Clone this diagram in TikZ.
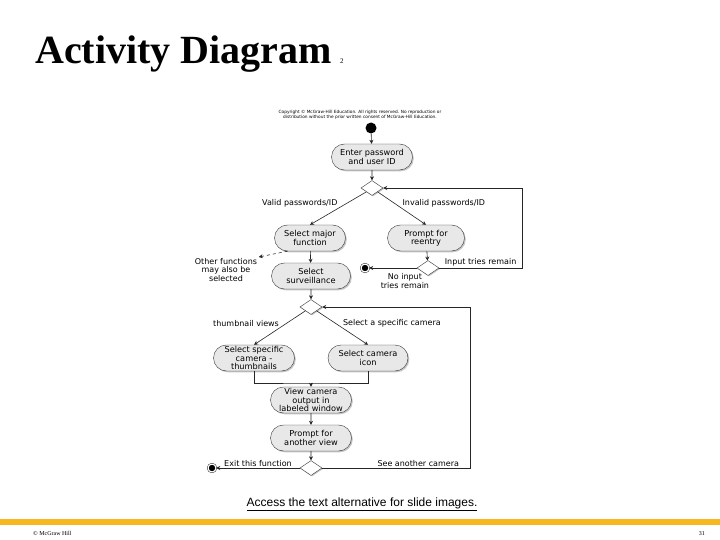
\documentclass[tikz,border=0pt]{standalone}
\usepackage{fontspec}
\setmainfont{Liberation Sans}
\newfontfamily\diagfont{DejaVu Sans}
\newfontfamily\titlefont{Liberation Serif}
\usetikzlibrary{shapes.misc,shapes.geometric,arrows.meta,shadows}

\definecolor{barYellow}{RGB}{246,184,30}
\definecolor{boxGray}{RGB}{232,232,232}

\tikzset{
  activity/.style={rounded rectangle, draw=black!80, fill=boxGray, minimum height=26pt,
    inner sep=0.5pt, align=center, font=\diagfont\fontsize{8.2}{8.4}\selectfont,
    drop shadow={shadow xshift=1.3pt, shadow yshift=-1.3pt, fill=black!45}},
  decision/.style={diamond, draw=black!80, fill=white, minimum width=22pt, minimum height=15pt,
    inner sep=0pt, drop shadow={shadow xshift=1pt, shadow yshift=-1pt, fill=black!45}},
  flow/.style={draw=black!85, line width=0.6pt, -{Stealth[length=4pt,width=4pt]}},
  guard/.style={font=\diagfont\fontsize{8}{8.2}\selectfont, inner sep=1.5pt, align=center},
  startnode/.style={circle, fill=black, minimum size=11pt, inner sep=0pt},
  endnode/.style={circle, draw=black, fill=black, double=white, double distance=1.2pt,
    minimum size=8pt, inner sep=0pt},
}

\begin{document}
\begin{tikzpicture}[x=1pt,y=-1pt]
\useasboundingbox (0,0) rectangle (720,540);

% Title
\node[anchor=base west, inner sep=0, font=\titlefont\bfseries\fontsize{40}{40}\selectfont] (title) at (35,64) {Activity Diagram};
\node[anchor=base west, inner sep=0, font=\titlefont\fontsize{7}{7}\selectfont] (titlenum) at (340,64) {2};

% Copyright notice
\node[font=\diagfont\fontsize{4.3}{5}\selectfont, align=center] (notice) at (360,115)
  {Copyright © McGraw-Hill Education. All rights reserved. No reproduction or\\distribution without the prior written consent of McGraw-Hill Education.};

% Login part
\node[startnode] (start) at (371,128) {};
\node[activity, minimum width=82pt] (enter) at (372,157) {Enter password\\and user ID};
\node[decision] (d1) at (372,188) {};
\node[activity, minimum width=72pt] (major) at (310,238) {Select major\\function};
\node[activity, minimum width=78pt] (reentry) at (426,238) {Prompt for\\reentry};
\node[decision] (d2) at (428,268) {};
\node[endnode] (end1) at (365,268) {};
\node[guard] (other) at (226,270) {Other functions\\may also be\\selected};
\coordinate (retry) at (522,0);

% Surveillance part
\node[activity, minimum width=80pt] (surv) at (311,276) {Select\\surveillance};
\node[decision] (d3) at (311,307) {};
\node[activity, minimum width=82pt] (thumb) at (254,358) {Select specific\\camera -\\thumbnails};
\node[activity, minimum width=81pt] (icon) at (368,358) {Select camera\\icon};
\coordinate (join) at (311,383);
\node[activity, minimum width=82pt] (view) at (311,400) {View camera\\output in\\labeled window};
\node[activity, minimum width=82pt] (again) at (311,438) {Prompt for\\another view};
\node[decision] (d4) at (311,468) {};
\node[endnode] (end2) at (212,468) {};
\coordinate (another) at (470,0);

% Flows
\draw[flow] (start) -- (enter);
\draw[flow] (enter) -- (d1);
\draw[flow] (d1.south west) -- node[guard, midway, above left=-1pt] {Valid passwords/ID} (major.north);
\draw[flow] (d1.south east) -- node[guard, midway, above right=-1pt] {Invalid passwords/ID} (reentry.north);
\draw[flow] (reentry) -- (d2);
\draw[flow] (d2) -- node[guard, pos=0.25, below=4pt] {No input\\tries remain} (end1);
\draw[flow] (d2.east) -- node[guard, above] {Input tries remain} (d2.east -| retry) |- (d1.east);
\draw[flow, dashed] (major.south west) -- (other.north east);
\draw[flow] (major) -- (surv);
\draw[flow] (surv) -- (d3);
\draw[flow] (d3.south west) -- node[guard, midway, above left=-1pt] {thumbnail views} (thumb.north);
\draw[flow] (d3.south east) -- node[guard, midway, above right=-1pt] {Select a specific camera} (icon.north);
\draw[draw=black!85, line width=0.6pt] (thumb.south) |- (join) -| (icon.south);
\draw[flow] (join) -- (view);
\draw[flow] (view) -- (again);
\draw[flow] (again) -- (d4);
\draw[flow] (d4) -- node[guard, midway, above] {Exit this function} (end2);
\draw[flow] (d4.east) -- node[guard, pos=0.65, above] {See another camera} (d4.east -| another) |- (d3.east);

% Footer
\node[font=\fontsize{12}{12}\selectfont, inner sep=0, anchor=base] (alttext) at (362,506) {\underline{Access the text alternative for slide images.}};
\fill[barYellow] (0,519) rectangle (720,525);
\node[font=\titlefont\fontsize{6}{6}\selectfont, inner sep=0, anchor=base west] (copyright) at (33,535) {© McGraw Hill};
\node[font=\titlefont\fontsize{6}{6}\selectfont, inner sep=0, anchor=base east] (pagenum) at (705,535) {31};
\end{tikzpicture}
\end{document}
